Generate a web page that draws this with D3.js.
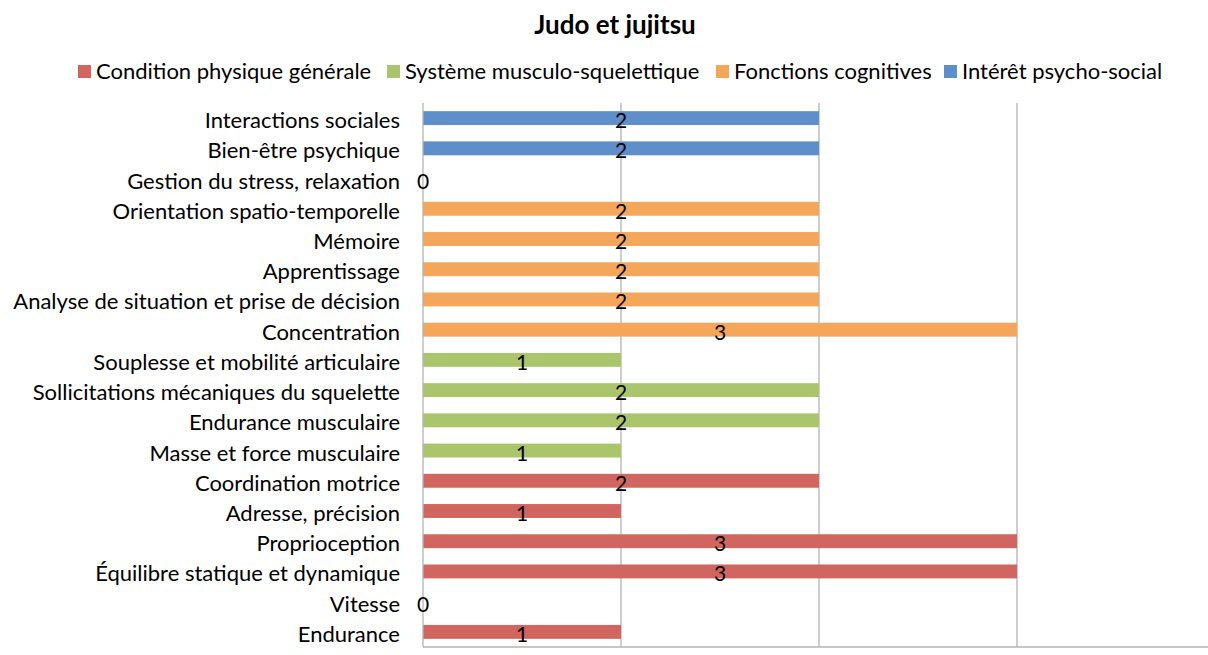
<!DOCTYPE html>
<html><head><meta charset="utf-8">
<script src="https://cdn.jsdelivr.net/npm/d3@7"></script>
<style>
html,body{margin:0;padding:0;background:#fff;}
svg text{font-family:Lato,"Open Sans",sans-serif;}
</style></head>
<body><svg id="c" width="1208" height="655"></svg>
<script>
const title = "Judo et jujitsu";
const seriesNames = ["Condition physique générale","Système musculo-squelettique","Fonctions cognitives","Intérêt psycho-social"];
const seriesColors = ["#D0665F","#ABC56C","#F4A75A","#5E8FCB"];
const categories = ["Interactions sociales","Bien-être psychique","Gestion du stress, relaxation","Orientation spatio-temporelle","Mémoire","Apprentissage","Analyse de situation et prise de décision","Concentration","Souplesse et mobilité articulaire","Sollicitations mécaniques du squelette","Endurance musculaire","Masse et force musculaire","Coordination motrice","Adresse, précision","Proprioception","Équilibre statique et dynamique","Vitesse","Endurance"];
const values = [2,2,0,2,2,2,2,3,1,2,2,1,2,1,3,3,0,1];
const seriesIndex = [3,3,3,2,2,2,2,2,1,1,1,1,0,0,0,0,0,0];
const xTicks = [0,1,2,3,4];

(function(){
const svg = d3.select("#c");
const pLeft = 423, pTop = 103, pBottom = 647, unit = 198;
const x = d3.scaleLinear().domain([0,4]).range([pLeft, pLeft + 4*unit]);
const y = d3.scaleBand().domain(categories).range([pTop, pBottom]).paddingInner(0.54).paddingOuter(0.27);

svg.append("text").attr("x",615).attr("y",34).attr("text-anchor","middle")
  .attr("font-size",26).attr("font-weight","bold").text(title);

// legend
const legTextX = [96, 405, 734, 962];
seriesNames.forEach((n,i)=>{
  svg.append("rect").attr("x",legTextX[i]-18).attr("y",65).attr("width",13).attr("height",13).attr("fill",seriesColors[i]);
  svg.append("text").attr("x",legTextX[i]).attr("y",79).attr("font-size",22).attr("fill","#000").text(n);
});

// gridlines
svg.append("g").selectAll("line").data(xTicks.slice(1)).join("line")
  .attr("x1",d=>x(d)).attr("x2",d=>x(d)).attr("y1",pTop).attr("y2",pBottom)
  .attr("stroke","#b3b3b3").attr("stroke-width",1.3);

// bars
svg.append("g").selectAll("rect").data(categories).join("rect")
  .attr("x",x(0)).attr("y",d=>y(d)).attr("height",y.bandwidth())
  .attr("width",(d,i)=>x(values[i])-x(0))
  .attr("fill",(d,i)=>seriesColors[seriesIndex[i]]);

// axes
svg.append("line").attr("x1",pLeft).attr("x2",1208).attr("y1",pBottom).attr("y2",pBottom).attr("stroke","#b3b3b3").attr("stroke-width",1.3);
svg.append("line").attr("x1",pLeft).attr("x2",pLeft).attr("y1",pTop).attr("y2",pBottom).attr("stroke","#b3b3b3").attr("stroke-width",1.3);

// category labels
const yAxis = d3.axisLeft(y).tickSize(0).tickPadding(23);
const ga = svg.append("g").attr("transform",`translate(${pLeft},0)`).call(yAxis);
ga.select(".domain").remove();
ga.selectAll("text").attr("font-size",22).attr("fill","#000").attr("font-family","Lato,'Open Sans',sans-serif").attr("dy",null).attr("y",10);

// value labels
svg.append("g").selectAll("text").data(categories).join("text")
  .attr("x",(d,i)=>(x(0)+x(values[i]))/2)
  .attr("y",d=>y(d)+y.bandwidth()/2+10)
  .attr("text-anchor","middle").attr("font-size",21).attr("fill","#000")
  .text((d,i)=>values[i]);
})();
</script></body></html>
